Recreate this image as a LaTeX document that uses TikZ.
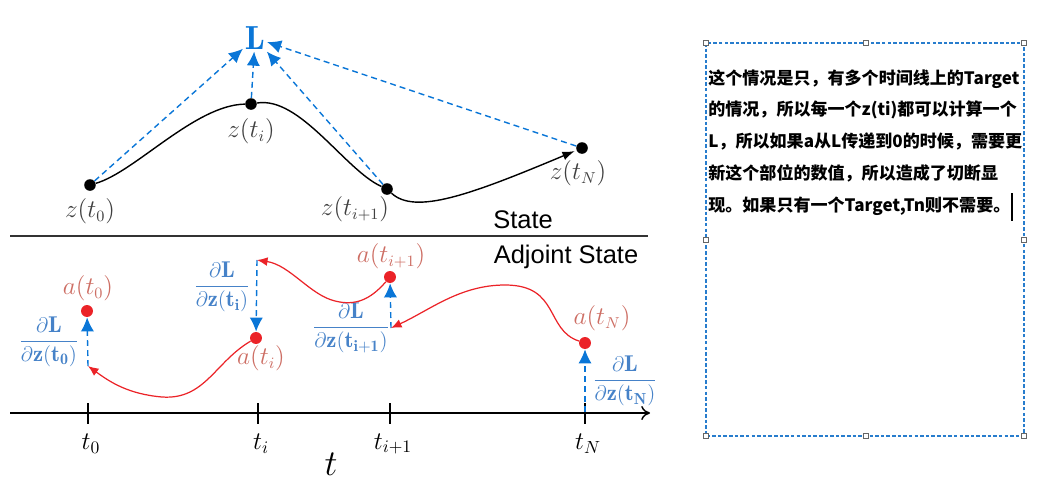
\documentclass[tikz,border=0pt]{standalone}
\usepackage{amsmath, amssymb}
\usepackage{fontspec}
\newfontfamily\cjk{Noto Sans CJK SC}
\newfontfamily\labelsans{Liberation Sans}
\usetikzlibrary{arrows.meta,calc,positioning}
\definecolor{lossblue}{RGB}{10,118,215}
\definecolor{fracblue}{RGB}{70,130,200}
\definecolor{adjred}{RGB}{235,35,40}
\definecolor{adjlabel}{RGB}{205,110,100}
\definecolor{boxblue}{RGB}{40,125,205}

\begin{document}
\begin{tikzpicture}[x=0.02cm, y=-0.02cm,
    zdot/.style={circle, fill=black, inner sep=0pt, minimum size=6.6pt},
    adot/.style={circle, fill=adjred, inner sep=0pt, minimum size=6.8pt},
    zlabel/.style={text=black!75, font=\fontsize{13.5}{16}\selectfont},
    alabel/.style={text=adjlabel, font=\fontsize{13.5}{16}\selectfont},
    grad/.style={text=fracblue, font=\fontsize{13}{16}\selectfont},
    lossarrow/.style={lossblue, line width=0.8pt, dash pattern=on 3.4pt off 2.3pt, -{Latex[length=8pt,width=7.5pt]}},
    adjarrow/.style={adjred, line width=0.7pt, -{Latex[length=6pt,width=5pt]}},
    handle/.style={draw=black!60, fill=white, line width=0.4pt}]
            \useasboundingbox (0,0) rectangle (1055,484);
            % State part
            \node[text=lossblue, font=\fontsize{19}{22}\selectfont, inner sep=1pt] (L) at (255,38) {$\mathbf{L}$};
            \node[zdot] (z0) at (90,185) {};
            \node[zdot] (zi) at (251,104) {};
            \node[zdot] (zi1) at (387,189) {};
            \node[zdot] (zN) at (582,148) {};
            \node[zlabel] (lz0) at (90,211) {$z(t_0)$};
            \node[zlabel] (lzi) at (251,131) {$z(t_i)$};
            \node[zlabel] (lzi1) at (355,209) {$z(t_{i+1})$};
            \node[zlabel] (lzN) at (578,173) {$z(t_N)$};
            % Draw the state trajectory
            \draw[thick, -{Latex[length=7pt,width=5pt]}, shorten >=1pt] (z0) .. controls (135,172) and (195,105) .. (zi)
                .. controls (300,96) and (345,170) .. (zi1)
                .. controls (415,215) and (470,195) .. (zN);
            % Loss arrows
            \foreach \src in {z0, zi, zi1, zN}
              \draw[lossarrow] (\src) -- (L);
            \node[font=\labelsans\fontsize{14.5}{17}\selectfont] (state) at (523,220) {State};
            \draw[line width=0.6pt, black!80] (10,236) -- (648,236);
            \node[font=\labelsans\fontsize{14.5}{17}\selectfont] (adjoint) at (566,257) {Adjoint State};
            % Time axis
            \draw[line width=0.8pt, -{To[length=5pt,width=8pt]}] (10,413) -- (650,413);
            \foreach \x/\name/\lab in {88/t0/t_0, 258/ti/t_i, 390/ti1/t_{i+1}, 585/tN/t_N} {
              \draw[line width=0.7pt] (\x,403) -- (\x,424);
              \node[font=\fontsize{14.5}{17}\selectfont] (\name) at (\x+3,444) {$\lab$};
            }
            \node[font=\fontsize{22}{26}\selectfont] (taxis) at (331,464) {$t$};
            % Adjoint points
            \node[adot] (a0) at (87,311) {};
            \node[adot] (ai) at (256,338) {};
            \node[adot] (ai1) at (390,277) {};
            \node[adot] (aN) at (585,343) {};
            \node[alabel] (la0) at (88,288) {$a(t_0)$};
            \node[alabel] (lai) at (261,358) {$a(t_i)$};
            \node[alabel] (lai1) at (391,256) {$a(t_{i+1})$};
            \node[alabel] (laN) at (602,318) {$a(t_N)$};
            \coordinate (b0) at (88,366);
            \coordinate (bi) at (257,260);
            \coordinate (bi1) at (391,328);
            \coordinate (bN) at (585,412);
            % Gradient jumps
            \draw[lossarrow] (b0) -- (a0);
            \draw[lossarrow] (bi) -- (ai);
            \draw[lossarrow] (bi1) -- (ai1);
            \draw[lossarrow] (bN) -- (aN);
            \node[grad] (g0) at (49,342) {$\dfrac{\partial\mathbf{L}}{\partial\mathbf{z}(\mathbf{t_0})}$};
            \node[grad] (gi) at (222,287) {$\dfrac{\partial\mathbf{L}}{\partial\mathbf{z}(\mathbf{t_i})}$};
            \node[grad] (gi1) at (351,328) {$\dfrac{\partial\mathbf{L}}{\partial\mathbf{z}(\mathbf{t_{i+1}})}$};
            \node[grad] (gN) at (625,381) {$\dfrac{\partial\mathbf{L}}{\partial\mathbf{z}(\mathbf{t_N})}$};
            % Backward adjoint pieces
            \draw[adjarrow] (aN) .. controls (545,330) and (560,285) .. (505,285)
                .. controls (460,285) and (430,310) .. (bi1);
            \draw[adjarrow] (ai1) .. controls (370,300) and (355,306) .. (335,301)
                .. controls (310,295) and (290,265) .. (bi);
            \draw[adjarrow] (ai) .. controls (215,362) and (205,400) .. (162,397)
                .. controls (128,394) and (110,382) .. (b0);
            % Note box
            \draw[boxblue, line width=0.6pt, dash pattern=on 2pt off 1.2pt] (706,43) rectangle (1024,436);
            \foreach \x/\y in {706/43, 866/43, 1024/43, 706/240, 1024/240, 706/436, 866/436, 1024/436}
              \draw[handle] (\x-2.5,\y-2.5) rectangle (\x+2.5,\y+2.5);
            \node[anchor=north west, align=left, inner sep=0pt, font=\cjk\bfseries\fontsize{9.7}{18.1}\selectfont] (note) at (708,69)
              {这个情况是只，有多个时间线上的Target\\的情况，所以每一个z(ti)都可以计算一个\\L，所以如果a从L传递到0的时候，需要更\\新这个部位的数值，所以造成了切断显\\现。如果只有一个Target,Tn则不需要。};
            \draw[line width=0.6pt] (1012,193) -- (1012,221);
\end{tikzpicture}
\end{document}
